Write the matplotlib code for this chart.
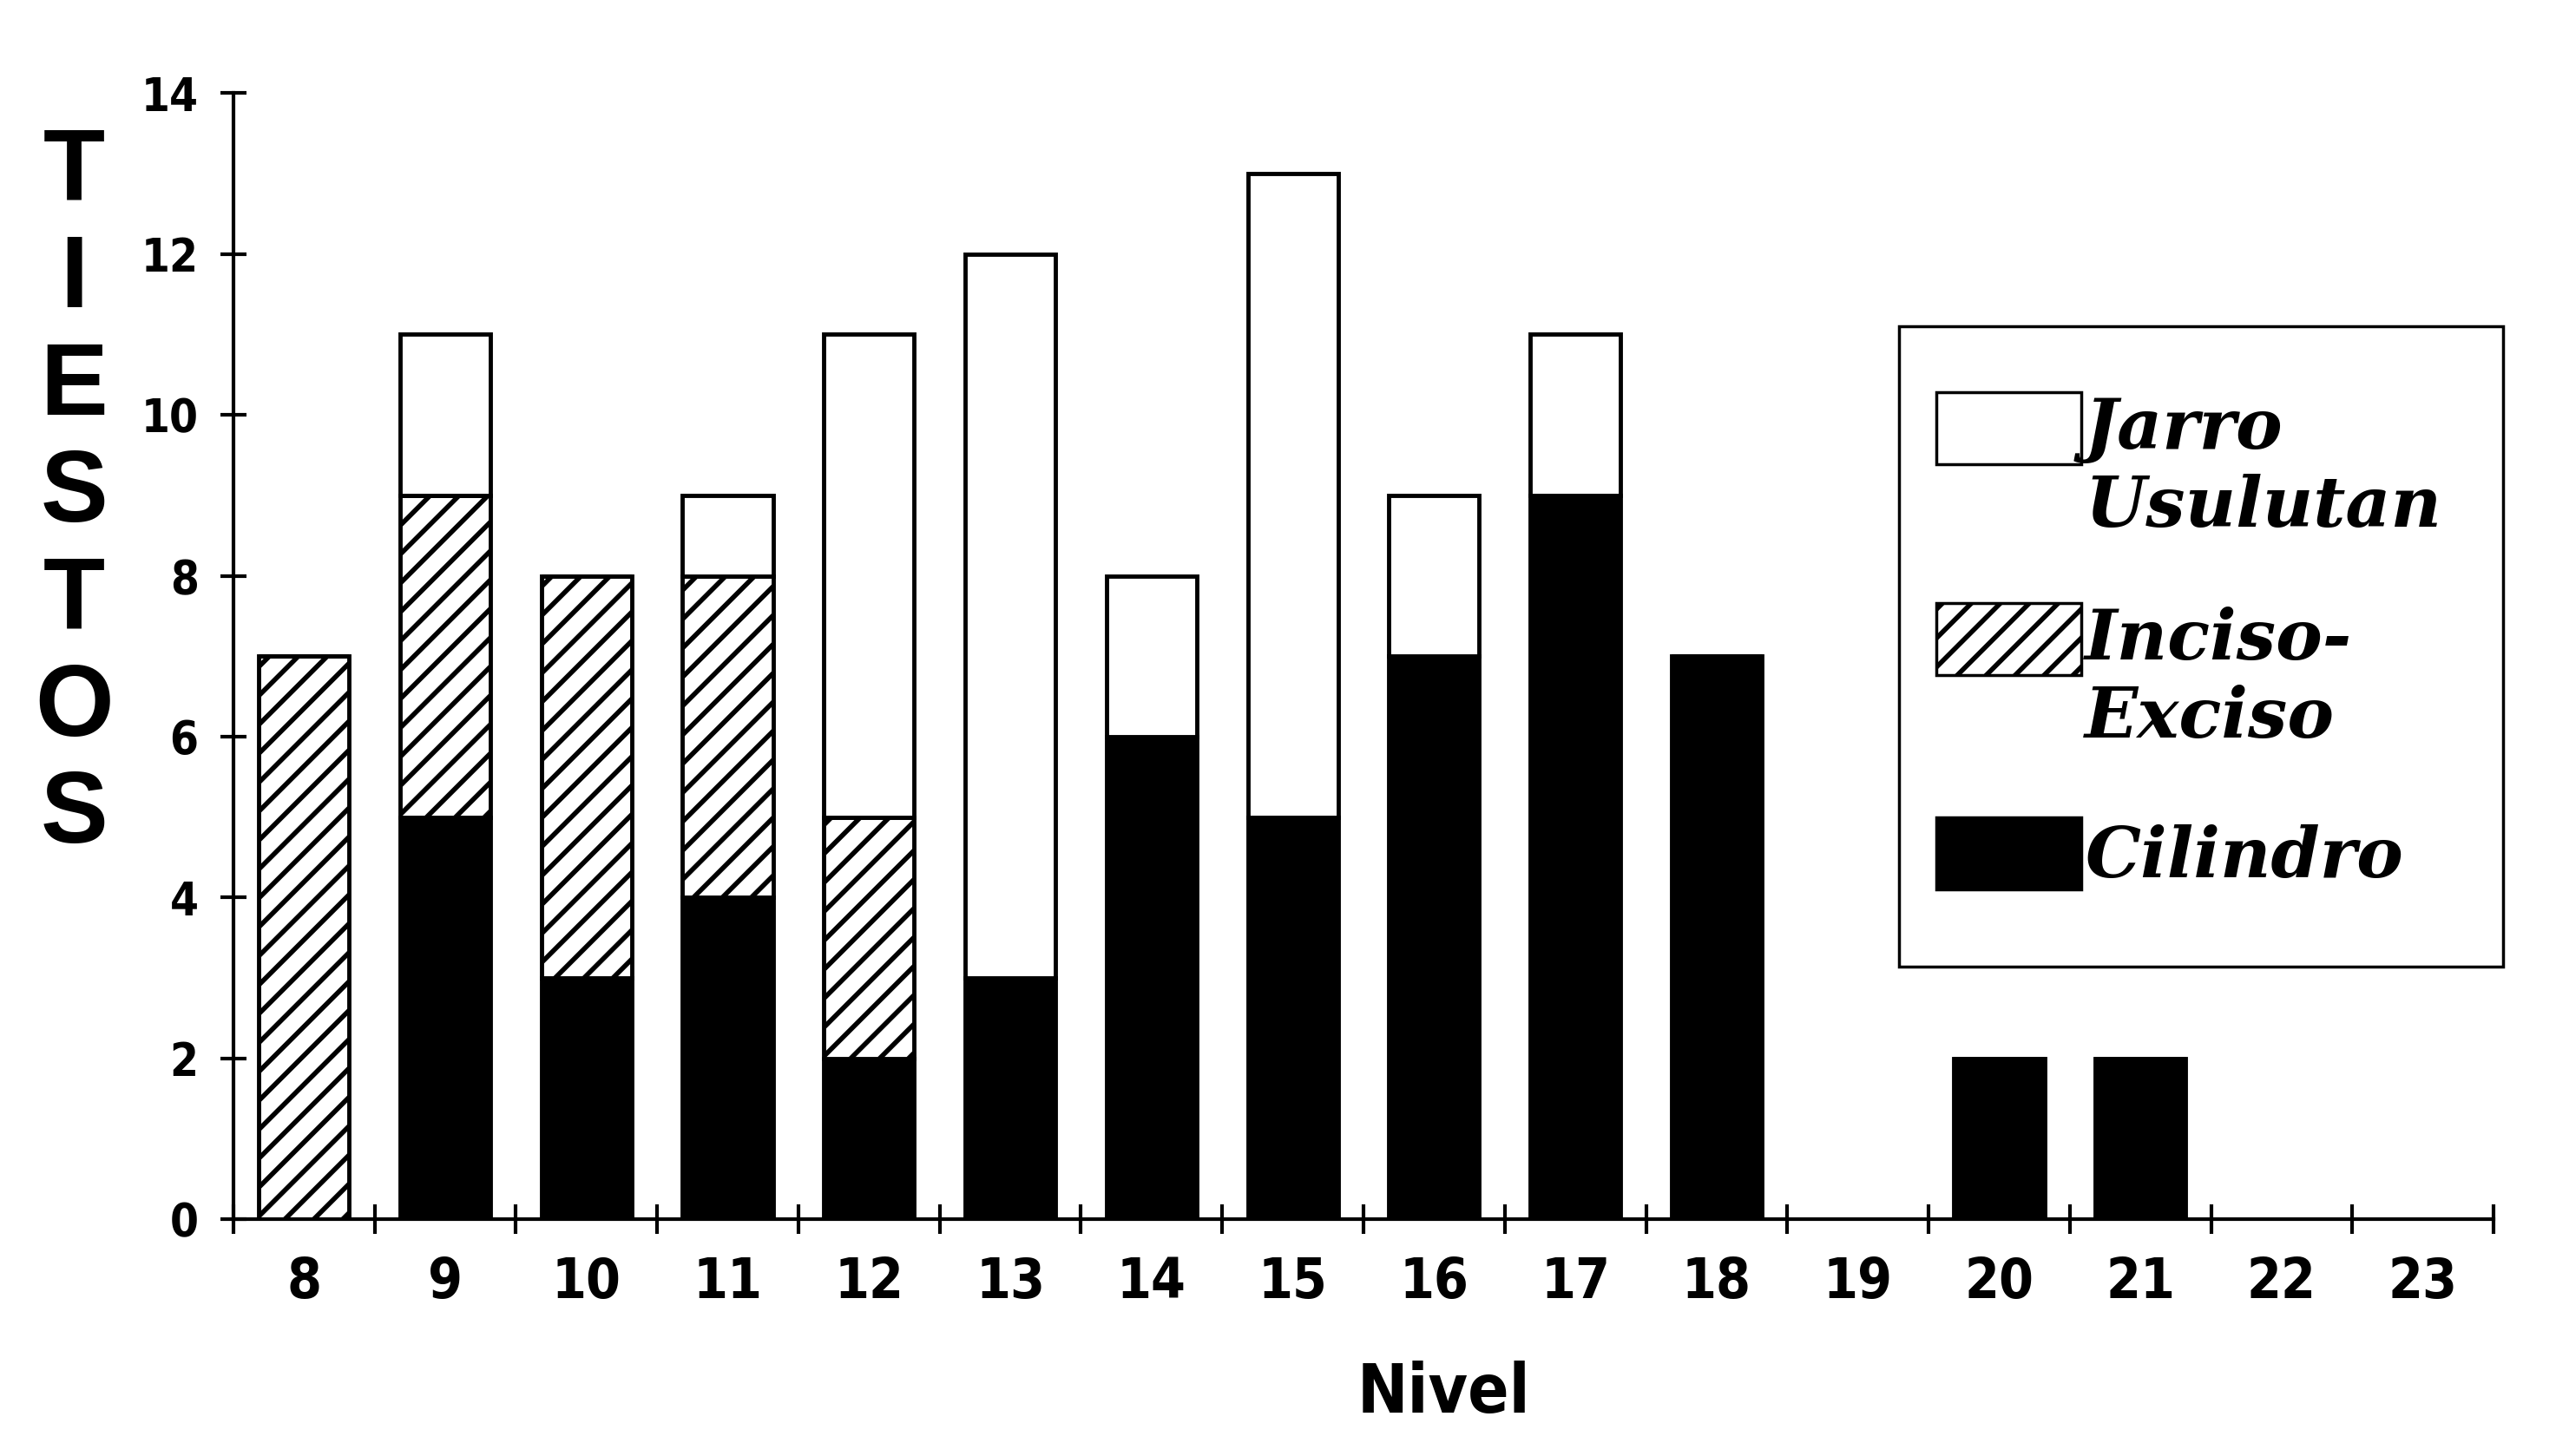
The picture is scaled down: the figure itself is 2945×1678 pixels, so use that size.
import matplotlib
matplotlib.use("Agg")
import matplotlib.pyplot as plt
import matplotlib.patches as mpatches
from matplotlib.legend_handler import HandlerPatch
import numpy as np

# niveles y conteo de tiestos por tipo
niveles = ["8", "9", "10", "11", "12", "13", "14", "15", "16", "17", "18", "19", "20", "21", "22", "23"]
cilindro = [0, 5, 3, 4, 2, 3, 6, 5, 7, 9, 7, 0, 2, 2, 0, 0]
inciso = [7, 4, 5, 4, 3, 0, 0, 0, 0, 0, 0, 0, 0, 0, 0, 0]
jarro = [0, 2, 0, 1, 6, 9, 2, 8, 2, 2, 0, 0, 0, 0, 0, 0]

plt.rcParams['hatch.linewidth'] = 4
plt.rcParams['hatch.color'] = 'black'

fig = plt.figure(figsize=(29.45, 16.78), dpi=100)
ax = fig.add_axes([0.0913, 0.1627, 0.8843, 0.7733])

x = np.arange(len(niveles))
ancho = 0.64
base2 = np.array(cilindro)
base3 = base2 + np.array(inciso)

ax.bar(x, cilindro, ancho, color='black', edgecolor='black', linewidth=3.5)
ax.bar(x, inciso, ancho, bottom=base2, color='white', edgecolor='black', linewidth=3.5, hatch='/')
ax.bar(x, jarro, ancho, bottom=base3, color='white', edgecolor='black', linewidth=3.5)

ax.set_xlim(-0.5, len(niveles) - 0.5)
ax.set_ylim(0, 14)

for s in ['top', 'right']:
    ax.spines[s].set_visible(False)
ax.spines['left'].set_linewidth(3)
ax.spines['bottom'].set_linewidth(3)

fuente_num = ['DejaVu Sans']

ax.set_yticks(np.arange(0, 15, 2))
ax.set_yticklabels([str(v) for v in range(0, 15, 2)], fontsize=38, fontweight='bold', family=fuente_num,
                   fontstretch='condensed')
ax.tick_params(axis='y', direction='inout', length=22, width=3, pad=18)

ax.set_xticks(np.arange(-0.5, len(niveles), 1))
ax.set_xticklabels([])
ax.set_xticks(x, niveles, minor=True)
ax.tick_params(axis='x', which='major', direction='inout', length=24, width=3)
ax.tick_params(axis='x', which='minor', length=0, pad=30)
for t in ax.get_xticklabels(minor=True):
    t.set_fontsize(46)
    t.set_fontweight('bold')
    t.set_family(fuente_num)
    t.set_fontstretch('condensed')

fig.text(0.029, 0.66, "T\nI\nE\nS\nT\nO\nS", fontsize=84, fontweight='bold', ha='center', va='center',
         family=['Liberation Sans', 'DejaVu Sans'], linespacing=1.17)
fig.text(0.565, 0.043, "Nivel", fontsize=56, fontweight='bold', ha='center', va='center', family=fuente_num,
         fontstretch='condensed')

# leyenda: el cuadro va aparte, la muestra alineada con la primera linea
h_jarro = mpatches.Patch(facecolor='white', edgecolor='black', linewidth=2.5)
h_inciso = mpatches.Patch(facecolor='white', edgecolor='black', linewidth=2.5, hatch='/')
h_cil = mpatches.Patch(facecolor='black', edgecolor='black', linewidth=2.5)


def arriba(legend, orig_handle, xdescent, ydescent, width, height, fontsize):
    return mpatches.Rectangle((-xdescent, -ydescent + 0.62 * fontsize), width, height)


leg = ax.legend([h_jarro, h_inciso, h_cil], ['Jarro\nUsulutan', 'Inciso-\nExciso', 'Cilindro'],
                handler_map={h_jarro: HandlerPatch(patch_func=arriba), h_inciso: HandlerPatch(patch_func=arriba)},
                loc='upper left', bbox_to_anchor=(0.7535, 0.731), borderaxespad=0, borderpad=0,
                prop={'family': 'DejaVu Serif', 'style': 'italic', 'weight': 'bold', 'size': 58},
                handlelength=2.07, handleheight=1.2, handletextpad=0.05, labelspacing=0.94,
                frameon=False)
ax.add_patch(mpatches.Rectangle((0.737, 0.224), 0.267, 0.569, transform=ax.transAxes, fill=False,
                                edgecolor='black', linewidth=2.5, clip_on=False))

fig.savefig("out.png", dpi=100)
